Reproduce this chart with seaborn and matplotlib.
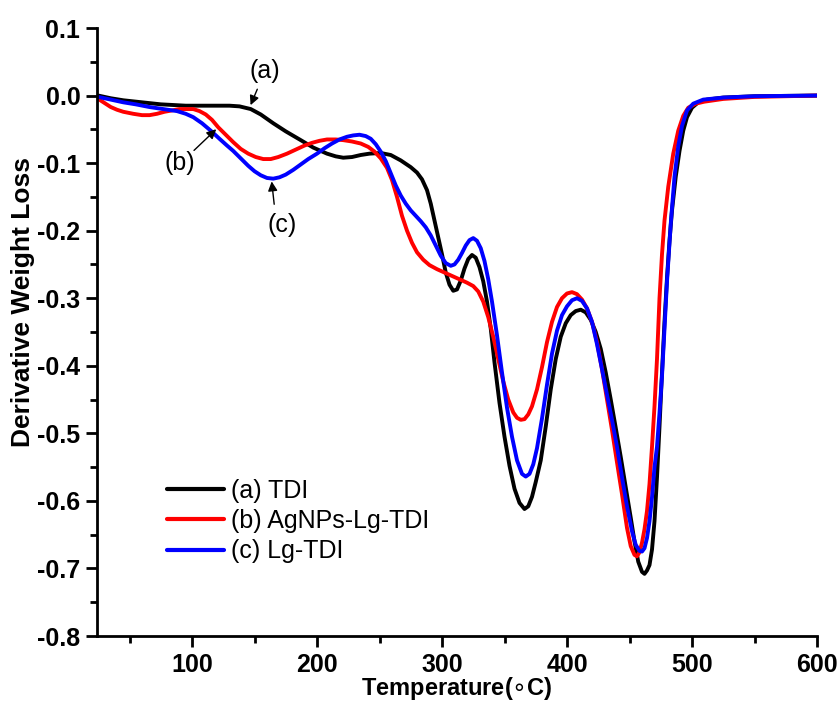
import numpy as np
import pandas as pd
import matplotlib
matplotlib.use("Agg")
import matplotlib.pyplot as plt
import seaborn as sns
from matplotlib.ticker import MultipleLocator, FixedLocator, FixedFormatter

# ---- data ----
tdi_x = [25, 35, 45, 55, 65, 75, 85, 95, 107, 120, 130, 138, 147, 155, 165, 175, 187, 197, 208,
         215, 221, 228, 235, 242, 251, 259, 267, 275, 280, 284, 288, 291, 294, 297, 300, 303, 306,
         309, 312, 315, 318, 321, 324, 327, 330, 333, 336, 339, 342, 346, 350, 354, 358, 362, 366,
         369, 372, 375, 379, 383, 387, 391, 395, 399, 403, 407, 411, 415, 419, 423, 427, 431, 435,
         439, 443, 447, 451, 454, 457, 460, 462, 464, 466, 468, 470, 472, 474, 476, 478, 480, 482,
         484, 487, 490, 493, 496, 500, 505, 512, 525, 550, 600]
tdi_y = [0.0, -0.004, -0.007, -0.009, -0.011, -0.013, -0.014, -0.015, -0.015, -0.015, -0.015,
         -0.016, -0.020, -0.028, -0.041, -0.053, -0.066, -0.077, -0.086, -0.090, -0.092, -0.091,
         -0.088, -0.086, -0.085, -0.088, -0.096, -0.106, -0.114, -0.124, -0.140, -0.160, -0.185,
         -0.210, -0.235, -0.262, -0.280, -0.289, -0.287, -0.274, -0.256, -0.242, -0.236, -0.240,
         -0.254, -0.275, -0.305, -0.345, -0.395, -0.455, -0.505, -0.548, -0.582, -0.603, -0.612,
         -0.608, -0.594, -0.572, -0.540, -0.490, -0.435, -0.390, -0.357, -0.337, -0.325, -0.319,
         -0.317, -0.321, -0.332, -0.350, -0.375, -0.410, -0.450, -0.492, -0.535, -0.580, -0.625,
         -0.660, -0.690, -0.705, -0.708, -0.703, -0.695, -0.672, -0.630, -0.565, -0.490, -0.410,
         -0.335, -0.270, -0.215, -0.170, -0.120, -0.082, -0.052, -0.032, -0.018, -0.010, -0.006,
         -0.003, -0.001, 0.0]

ag_x = [25, 30, 35, 40, 45, 53, 60, 66, 72, 78, 84, 90, 96, 101, 106, 111, 116, 121, 127, 133,
        139, 145, 151, 157, 163, 169, 176, 183, 190, 196, 202, 208, 215, 221, 228, 235, 241, 246,
        251, 256, 260, 264, 268, 272, 276, 280, 285, 290, 296, 302, 308, 314, 320, 325, 329, 333,
        337, 341, 345, 349, 353, 357, 360, 363, 366, 369, 372, 376, 380, 384, 388, 392, 396, 400,
        404, 408, 412, 416, 420, 424, 428, 432, 436, 440, 444, 448, 451, 454, 456, 458, 460, 462,
        464, 466, 468, 470, 472, 474, 476, 478, 481, 485, 489, 493, 497, 503, 510, 525, 550, 600]
ag_y = [-0.005, -0.011, -0.017, -0.021, -0.024, -0.027, -0.029, -0.029, -0.027, -0.024, -0.022,
        -0.020, -0.020, -0.020, -0.023, -0.028, -0.036, -0.047, -0.058, -0.069, -0.079, -0.086,
        -0.091, -0.094, -0.094, -0.091, -0.086, -0.080, -0.074, -0.070, -0.067, -0.065, -0.065,
        -0.066, -0.068, -0.071, -0.076, -0.083, -0.093, -0.107, -0.125, -0.150, -0.178, -0.200,
        -0.218, -0.232, -0.243, -0.251, -0.257, -0.262, -0.267, -0.272, -0.277, -0.282, -0.290,
        -0.305, -0.328, -0.357, -0.390, -0.423, -0.450, -0.469, -0.477, -0.480, -0.479, -0.472,
        -0.460, -0.435, -0.402, -0.365, -0.335, -0.313, -0.300, -0.293, -0.291, -0.294, -0.302,
        -0.315, -0.335, -0.365, -0.405, -0.450, -0.495, -0.543, -0.590, -0.640, -0.667, -0.680,
        -0.682, -0.676, -0.662, -0.642, -0.615, -0.575, -0.520, -0.460, -0.390, -0.300, -0.235,
        -0.185, -0.135, -0.086, -0.052, -0.030, -0.018, -0.012, -0.009, -0.005, -0.002, 0.0]

lg_x = [25, 35, 45, 55, 66, 77, 88, 95, 101, 108, 115, 122, 128, 133, 139, 145, 150, 155, 160,
        165, 170, 175, 181, 187, 193, 200, 206, 212, 218, 224, 229, 234, 239, 243, 247, 251, 255,
        259, 263, 267, 271, 275, 279, 283, 287, 291, 295, 299, 303, 307, 310, 313, 316, 319, 322,
        325, 328, 331, 334, 337, 340, 344, 348, 352, 356, 360, 364, 367, 370, 373, 376, 380, 384,
        388, 392, 396, 400, 404, 408, 412, 416, 420, 424, 428, 432, 436, 440, 444, 448, 452, 455,
        458, 460, 462, 464, 466, 468, 470, 472, 474, 476, 478, 480, 483, 486, 489, 492, 496, 501,
        509, 525, 550, 600]
lg_y = [-0.002, -0.006, -0.010, -0.013, -0.017, -0.020, -0.023, -0.027, -0.032, -0.041, -0.052,
        -0.064, -0.074, -0.082, -0.093, -0.104, -0.112, -0.118, -0.122, -0.123, -0.121, -0.117,
        -0.110, -0.102, -0.094, -0.086, -0.078, -0.071, -0.065, -0.061, -0.059, -0.058, -0.060,
        -0.064, -0.072, -0.083, -0.097, -0.115, -0.133, -0.148, -0.160, -0.170, -0.178, -0.186,
        -0.195, -0.207, -0.222, -0.237, -0.248, -0.252, -0.250, -0.243, -0.233, -0.222, -0.214,
        -0.211, -0.215, -0.226, -0.245, -0.272, -0.305, -0.355, -0.410, -0.462, -0.505, -0.540,
        -0.560, -0.564, -0.560, -0.546, -0.522, -0.478, -0.428, -0.382, -0.348, -0.325, -0.312,
        -0.303, -0.300, -0.304, -0.315, -0.335, -0.368, -0.405, -0.443, -0.480, -0.520, -0.565,
        -0.608, -0.645, -0.665, -0.674, -0.675, -0.670, -0.655, -0.630, -0.595, -0.550, -0.520,
        -0.470, -0.415, -0.345, -0.275, -0.190, -0.120, -0.075, -0.045, -0.022, -0.012, -0.006,
        -0.003, -0.001, 0.0]

labels = ["(a) TDI", "(b) AgNPs-Lg-TDI", "(c) Lg-TDI"]
colors = ["#000000", "#ff0000", "#0000ff"]
xticks = [100, 200, 300, 400, 500, 600]
yticks = [-0.8, -0.7, -0.6, -0.5, -0.4, -0.3, -0.2, -0.1, 0.0, 0.1]
ytick_labels = ["-0.8", "-0.7", "-0.6", "-0.5", "-0.4", "-0.3", "-0.2", "-0.1", "0.0", "0.1"]

df = pd.concat([
    pd.DataFrame({"T": tdi_x, "D": tdi_y, "sample": labels[0]}),
    pd.DataFrame({"T": ag_x, "D": ag_y, "sample": labels[1]}),
    pd.DataFrame({"T": lg_x, "D": lg_y, "sample": labels[2]}),
], ignore_index=True)

sns.set_theme(style="ticks")
plt.rcParams["font.family"] = ["Liberation Sans", "DejaVu Sans"]
plt.rcParams["text.color"] = "black"
plt.rcParams["axes.labelcolor"] = "black"
plt.rcParams["xtick.color"] = "black"
plt.rcParams["ytick.color"] = "black"

fig = plt.figure(figsize=(8.39, 7.02), dpi=100)
ax = fig.add_axes([97 / 839, 1 - 636 / 702, 720 / 839, 608 / 702])

sns.lineplot(data=df, x="T", y="D", hue="sample", hue_order=labels,
             palette=colors, linewidth=2.8, sort=False, ax=ax)

ax.set_xlim(24, 600)
ax.set_ylim(-0.8, 0.1)
ax.xaxis.set_major_locator(FixedLocator(xticks))
ax.xaxis.set_minor_locator(MultipleLocator(50))
ax.yaxis.set_major_locator(FixedLocator(yticks))
ax.yaxis.set_major_formatter(FixedFormatter(ytick_labels))
ax.yaxis.set_minor_locator(MultipleLocator(0.05))

for s in ["top", "right"]:
    ax.spines[s].set_visible(False)
for s in ["left", "bottom"]:
    ax.spines[s].set_linewidth(2.0)
    ax.spines[s].set_color("black")

ax.tick_params(which="major", direction="out", length=8, width=2, color="black",
               labelsize=18, pad=4)
ax.tick_params(which="minor", direction="out", length=5, width=2, color="black")
for lab in ax.get_xticklabels() + ax.get_yticklabels():
    lab.set_fontweight("bold")

ax.set_xlabel(r"Temperature($\circ$C)", fontsize=17, fontweight="bold", labelpad=-1)
ax.set_ylabel("Derivative Weight Loss", fontsize=19, fontweight="bold")
ax.yaxis.set_label_coords(-0.086, 0.55)

leg = ax.legend(loc="upper left", bbox_to_anchor=(0.083, 0.275), frameon=False,
                fontsize=18, handlelength=2.3, handletextpad=0.25, labelspacing=0.25,
                borderaxespad=0)
for line in leg.get_lines():
    line.set_linewidth(3)

arrow = dict(arrowstyle="-|>", color="black", lw=1, mutation_scale=14)
ax.annotate("(a)", xy=(146, -0.018), xytext=(146, 0.018), fontsize=18,
            ha="left", va="bottom", arrowprops=arrow)
ax.annotate("", xy=(121, -0.047), xytext=(100, -0.084), arrowprops=arrow)
ax.text(90, -0.100, "(b)", fontsize=18, ha="center", va="center")
ax.annotate("", xy=(163.5, -0.123), xytext=(166, -0.165), arrowprops=arrow)
ax.text(172, -0.192, "(c)", fontsize=18, ha="center", va="center")

fig.savefig("out.png", dpi=100)
